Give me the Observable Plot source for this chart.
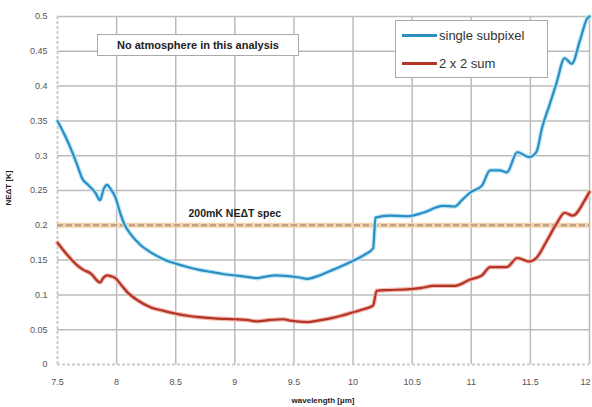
<!DOCTYPE html>
<html>
<head>
<meta charset="utf-8">
<script src="https://cdn.jsdelivr.net/npm/d3@7"></script>
<script src="https://cdn.jsdelivr.net/npm/@observablehq/plot@0.6"></script>
<style>
  html, body { margin: 0; padding: 0; background: #fff; }
  #wrap { position: relative; width: 592px; height: 407px; font-family: "Liberation Sans", Arial, sans-serif; }
  .box { position: absolute; background: #fff; border: 1.5px solid #aaa; }
  #note { left: 97px; top: 34px; width: 200px; height: 20px; font-weight: bold; font-size: 11px; line-height: 20px; text-align: center; color: #222; }
  #legend { left: 395px; top: 20px; width: 151px; height: 56px; font-size: 13px; color: #333; }
  .row { position: absolute; left: 6px; display: flex; align-items: center; }
  .sw { width: 35px; height: 3px; margin-right: 2px; }
  #ylab { position: absolute; left: 8px; top: 188px; transform: translate(-50%,-50%) rotate(-90deg); font-size: 8px; font-weight: bold; color: #222; white-space: nowrap; }
  #xlab { position: absolute; left: 323px; top: 400px; transform: translate(-50%,-50%); font-size: 8px; font-weight: bold; color: #222; white-space: nowrap; }
</style>
</head>
<body>
<div id="wrap"></div>
<script>
// Wavelength samples (µm) and NEΔT (K) for the single-subpixel curve
const singleX = [7.5, 7.56, 7.63, 7.67, 7.71, 7.76, 7.82, 7.86, 7.89, 7.92, 7.95, 7.99, 8.03, 8.07, 8.12, 8.2, 8.3, 8.4, 8.5, 8.6, 8.7, 8.8, 8.9, 9.0, 9.1, 9.19, 9.25, 9.35, 9.45, 9.55, 9.61, 9.7, 9.8, 9.9, 10.0, 10.1, 10.17, 10.19, 10.31, 10.46, 10.59, 10.76, 10.86, 10.92, 10.99, 11.09, 11.16, 11.24, 11.30, 11.39, 11.49, 11.55, 11.60, 11.66, 11.72, 11.79, 11.85, 11.92, 11.98, 12.0];
const singleY = [0.35, 0.33, 0.303, 0.285, 0.267, 0.258, 0.247, 0.236, 0.252, 0.258, 0.252, 0.24, 0.218, 0.2, 0.187, 0.172, 0.16, 0.151, 0.145, 0.14, 0.136, 0.133, 0.13, 0.128, 0.126, 0.124, 0.126, 0.128, 0.127, 0.125, 0.123, 0.127, 0.134, 0.141, 0.149, 0.158, 0.167, 0.211, 0.214, 0.213, 0.218, 0.228, 0.227, 0.236, 0.247, 0.257, 0.279, 0.279, 0.276, 0.305, 0.298, 0.305, 0.341, 0.372, 0.404, 0.44, 0.432, 0.466, 0.497, 0.5];

// NEΔT (K) for the 2 x 2 summed pixel curve
const sumX = [7.5, 7.58, 7.67, 7.72, 7.78, 7.86, 7.89, 7.92, 7.95, 7.99, 8.04, 8.09, 8.18, 8.29, 8.4, 8.5, 8.6, 8.7, 8.85, 9.0, 9.1, 9.19, 9.3, 9.41, 9.47, 9.61, 9.7, 9.8, 9.9, 10.0, 10.1, 10.17, 10.2, 10.3, 10.46, 10.58, 10.68, 10.86, 10.99, 11.09, 11.16, 11.30, 11.39, 11.49, 11.55, 11.63, 11.72, 11.79, 11.86, 11.96, 12.0];
const sumY = [0.175, 0.158, 0.142, 0.136, 0.131, 0.118, 0.125, 0.128, 0.127, 0.124, 0.114, 0.104, 0.092, 0.082, 0.077, 0.073, 0.07, 0.068, 0.066, 0.065, 0.064, 0.062, 0.064, 0.065, 0.063, 0.061, 0.063, 0.066, 0.07, 0.075, 0.08, 0.085, 0.106, 0.107, 0.108, 0.11, 0.113, 0.113, 0.122, 0.128, 0.14, 0.14, 0.153, 0.148, 0.153, 0.175, 0.202, 0.218, 0.214, 0.236, 0.248];

// Requirement level
const specValue = 0.2;
const specLabel = "200mK NEΔT spec";

const xTicks = [7.5, 8, 8.5, 9, 9.5, 10, 10.5, 11, 11.5, 12];
const yTicks = [0, 0.05, 0.1, 0.15, 0.2, 0.25, 0.3, 0.35, 0.4, 0.45, 0.5];

const single = singleX.map((x, i) => ({x, y: singleY[i]}));
const summed = sumX.map((x, i) => ({x, y: sumY[i]}));

const tickStyle = {fontSize: 9, fill: "#555"};

const chart = Plot.plot({
  width: 592,
  height: 407,
  marginLeft: 57,
  marginRight: 3,
  marginTop: 16,
  marginBottom: 43,
  style: {fontFamily: "Liberation Sans, Arial, sans-serif", fontSize: "9px", color: "#555", background: "#fff"},
  x: {domain: [7.5, 12], label: null},
  y: {domain: [0, 0.5], label: null},
  marks: [
    Plot.ruleX(xTicks.filter(d => d > 7.5), {stroke: "#bbb", strokeWidth: 1.5}),
    Plot.ruleY(yTicks.filter(d => d > 0), {stroke: "#bbb", strokeWidth: 1.5}),
    Plot.ruleX([7.5], {stroke: "#ccc", strokeWidth: 2, strokeDasharray: "3,2"}),
    Plot.ruleY([0], {stroke: "#ccc", strokeWidth: 2, strokeDasharray: "3,2"}),
    Plot.axisY({ticks: yTicks, tickFormat: d => String(d), tickSize: 0, tickPadding: 10, ...tickStyle}),
    Plot.axisX({ticks: xTicks.slice(0, -1), tickFormat: d => String(d), tickSize: 0, tickPadding: 14, ...tickStyle}),
    Plot.axisX({ticks: xTicks.slice(-1), tickFormat: d => String(d), tickSize: 0, tickPadding: 14, textAnchor: "end", dx: 1, ...tickStyle}),
    Plot.ruleY([specValue], {stroke: "#f6d2ad", strokeWidth: 5}),
    Plot.ruleY([specValue], {stroke: "#b59a80", strokeWidth: 2, strokeDasharray: "6,3"}),
    Plot.text([{x: 9.0, y: specValue}], {x: "x", y: "y", text: () => specLabel, dy: -12, fontWeight: "bold", fontSize: 10.5, fill: "#222"}),
    Plot.line(single, {x: "x", y: "y", stroke: "#bfe6f6", strokeWidth: 4.5, curve: "monotone-x"}),
    Plot.line(single, {x: "x", y: "y", stroke: "#2b8fc4", strokeWidth: 2.2, curve: "monotone-x"}),
    Plot.line(summed, {x: "x", y: "y", stroke: "#f2b8ae", strokeWidth: 4.5, curve: "monotone-x"}),
    Plot.line(summed, {x: "x", y: "y", stroke: "#b23526", strokeWidth: 2.2, curve: "monotone-x"})
  ]
});

const wrap = document.getElementById("wrap");
wrap.appendChild(chart);

wrap.insertAdjacentHTML("beforeend", `
  <div id="note" class="box">No atmosphere in this analysis</div>
  <div id="legend" class="box">
    <div class="row" style="top:7px"><div class="sw" style="background:#2b8fc4"></div>single subpixel</div>
    <div class="row" style="top:35px"><div class="sw" style="background:#b23526"></div>2 x 2 sum</div>
  </div>
  <div id="ylab">NEΔT [K]</div>
  <div id="xlab">wavelength [µm]</div>
`);
</script>
</body>
</html>
